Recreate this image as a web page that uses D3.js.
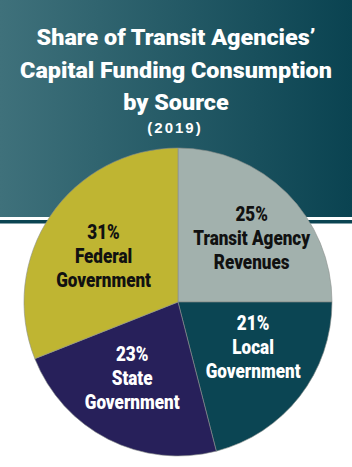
<!DOCTYPE html>
<html>
<head>
<meta charset="utf-8">
<script src="https://cdn.jsdelivr.net/npm/d3@7"></script>
<style>
	body { margin: 0; background: #fff; }
	svg { display: block; }
	.cond { font-family: "Roboto", "Liberation Sans", sans-serif; font-weight: 900; }
</style>
</head>
<body>
<svg id="chart" width="352" height="467"></svg>
<script>
// data
var sources = ["Transit Agency Revenues", "Local Government", "State Government", "Federal Government"];
var labelLines = [["Transit Agency", "Revenues"], ["Local", "Government"], ["State", "Government"], ["Federal", "Government"]];
var shares = [25, 21, 23, 31];
var sliceColors = ["#a2b1ad", "#0b4553", "#27205a", "#bfb532"];
var textColors = ["#111111", "#ffffff", "#ffffff", "#111111"];
var titleLines = ["Share of Transit Agencies\u2019", "Capital Funding Consumption", "by Source"];
var subtitle = "(2019)";

var svg = d3.select("#chart");
var width = +svg.attr("width");

// header band with gradient
var defs = svg.append("defs");
var grad = defs.append("linearGradient").attr("id", "hdr")
	.attr("x1", "0%").attr("x2", "100%").attr("y1", "0%").attr("y2", "0%");
grad.append("stop").attr("offset", "0%").attr("stop-color", "#3f717b");
grad.append("stop").attr("offset", "100%").attr("stop-color", "#0a4351");

svg.append("rect").attr("x", 0).attr("y", 0).attr("width", width).attr("height", 217)
	.attr("fill", "url(#hdr)");
svg.append("rect").attr("x", 0).attr("y", 220).attr("width", width).attr("height", 3.5)
	.attr("fill", "#0b4452");

// title, squeezed horizontally so the widest line spans about 312px
var titles = svg.selectAll(".title")
	.data(titleLines)
	.enter().append("text")
	.attr("class", "title cond")
	.attr("text-anchor", "middle")
	.attr("fill", "#fff")
	.style("font-size", "22px")
	.text(function(d) { return d; });
var titleW = d3.max(titles.nodes(), function(n) { return n.getComputedTextLength(); });
var titleSq = 312 / titleW;
titles.attr("transform", function(d, i) {
	return "translate(" + (width / 2) + "," + (45 + i * 32.5) + ") scale(" + titleSq + ",1)";
});

svg.append("text")
	.attr("x", width / 2 - 1)
	.attr("y", 133)
	.attr("text-anchor", "middle")
	.attr("fill", "#fff")
	.style("font-family", "'Liberation Sans', Arial, sans-serif")
	.style("font-weight", "bold")
	.style("font-size", "15px")
	.style("letter-spacing", "2px")
	.text(subtitle);

// pie
var radius = 154;
var g = svg.append("g").attr("transform", "translate(178,302)");

var pie = d3.pie().sort(null).value(function(d) { return d; });
var pieData = pie(shares);
var arc = d3.arc().innerRadius(0).outerRadius(radius);
var labelArc = d3.arc().innerRadius(0).outerRadius(180);
// small hand nudges so labels sit where the original has them
var nudge = [[10, 0], [4, -10], [-5, -4], [0, 5]];

g.selectAll(".slice")
	.data(pieData)
	.enter().append("path")
	.attr("class", "slice")
	.attr("d", arc)
	.attr("fill", function(d, i) { return sliceColors[i]; })
	.attr("stroke", "#8a8f8c")
	.attr("stroke-width", 0.6);

var labels = g.selectAll(".lbl")
	.data(pieData)
	.enter().append("text")
	.attr("class", "lbl cond")
	.attr("text-anchor", "middle")
	.attr("fill", function(d, i) { return textColors[i]; })
	.style("font-size", "20.5px");

labels.each(function(d, i) {
	var t = d3.select(this);
	var lines = [d.value + "%"].concat(labelLines[i]);
	t.selectAll("tspan")
		.data(lines)
		.enter().append("tspan")
		.attr("x", 0)
		.attr("y", function(l, j) { return (j - 1) * 24 + 7; })
		.text(function(l) { return l; });
});

// same squeeze for the slice labels: "Transit Agency" is about 117px wide
var probe = labels.filter(function(d, i) { return i === 0; }).selectAll("tspan").filter(function(l, j) { return j === 1; }).node();
var labelSq = 117 / probe.getComputedTextLength();
labels.attr("transform", function(d, i) {
	var c = labelArc.centroid(d);
	return "translate(" + (c[0] + nudge[i][0]) + "," + (c[1] + nudge[i][1]) + ") scale(" + labelSq + ",1)";
});
</script>
</body>
</html>
